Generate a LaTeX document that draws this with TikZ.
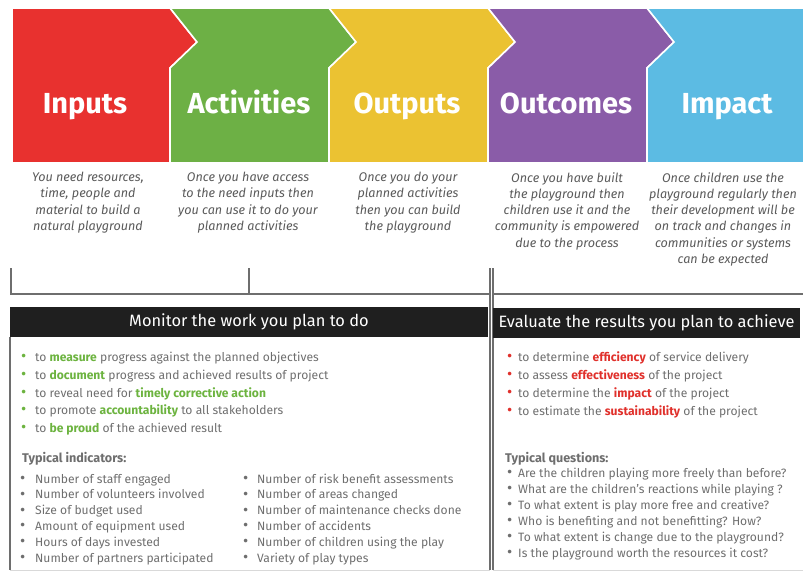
\documentclass[tikz,border=0pt]{standalone}
\usepackage{fontspec}
\setmainfont{Fira Sans}
\usetikzlibrary{positioning}

\definecolor{stagered}{HTML}{E8312F}
\definecolor{stagegreen}{HTML}{6DB045}
\definecolor{stageyellow}{HTML}{EBC232}
\definecolor{stagepurple}{HTML}{8A5CA8}
\definecolor{stageblue}{HTML}{5CBBE3}
\definecolor{keygreen}{HTML}{6CB33F}
\definecolor{keyred}{HTML}{E0302B}
\definecolor{txtgray}{HTML}{6E6E6E}
\definecolor{descgray}{HTML}{5A5A5A}
\definecolor{rulegray}{HTML}{6E6E6E}

\newcommand{\gkey}[1]{\textcolor{keygreen}{\textbf{#1}}}
\newcommand{\rkey}[1]{\textcolor{keyred}{\textbf{#1}}}

\newcommand{\drawstage}[5]{
  \def \stagel {#1}
  \def \stager {#2}
  \def \notchw {#3}
  \def \tipw {#4}
  % Fill the stage arrow, white edge splits it from its neighbour
  \filldraw[fill=#5, draw=white, line width=1.6pt]
    (\stagel,8) -- (\stager,8) -- (\stager+\tipw,42) -- (\stager,68)
    -- (\stager,163) -- (\stagel,163) -- (\stagel,68) -- (\stagel+\notchw,42) -- cycle;
}

\tikzset{
  stagetitle/.style={anchor=base, inner sep=0, text=white,
    font=\fontsize{29}{29}\selectfont\bfseries},
  desc/.style={anchor=north, inner sep=0, align=center, text=descgray,
    font=\fontsize{12.6}{16.3}\selectfont\itshape},
  hdr/.style={fill=black!88, text=white, inner sep=0, minimum height=30pt,
    font=\fontsize{16.4}{17}\selectfont},
  item/.style={anchor=base west, inner sep=0, text=txtgray,
    font=\fontsize{12.1}{13}\selectfont},
  itemhead/.style={item, font=\fontsize{12.6}{13}\selectfont\bfseries},
  dot/.style={anchor=base west, inner sep=0, yshift=-0.6pt,
    font=\fontsize{16}{16}\selectfont},
  rule/.style={draw=rulegray, line width=1.1pt}
}

\begin{document}
\begin{tikzpicture}[x=1pt, y=-1pt]
    \useasboundingbox (0,0) rectangle (803,574);
   %\drawstage{ left}{right}{notch}{tip}{colour}
    \drawstage{12}{170}{0}{27}{stagered}
    \drawstage{170}{329}{27}{27}{stagegreen}
    \drawstage{329}{488}{27}{27}{stageyellow}
    \drawstage{488}{647}{27}{27}{stagepurple}
    \drawstage{647}{805}{27}{0}{stageblue}
    \node[stagetitle] (inputs) at (85,113) {Inputs};
    \node[stagetitle] (activities) at (249,113) {Activities};
    \node[stagetitle] (outputs) at (407,113) {Outputs};
    \node[stagetitle] (outcomes) at (566,113) {Outcomes};
    \node[stagetitle] (impact) at (727,113) {Impact};

    \node[desc] (inputsdesc) at (88,172) {You need resources,\\ time, people and\\ material to build a\\ natural playground};
    \node[desc] (activitiesdesc) at (248,172) {Once you have access\\ to the need inputs then\\ you can use it to do your\\ planned activities};
    \node[desc] (outputsdesc) at (408,172) {Once you do your\\ planned activities\\ then you can build\\ the playground};
    \node[desc] (outcomesdesc) at (567,172) {Once you have built\\ the playground then\\ children use it and the\\ community is empowered\\ due to the process};
    \node[desc] (impactdesc) at (723,172) {Once children use the\\ playground regularly then\\ their development will be\\ on track and changes in\\ communities or systems\\ can be expected};

    % brackets and panel frames
    \draw[rule] (11,268) -- (11,294) -- (490,294);
    \draw[rule] (249,268) -- (249,294);
    \draw[rule] (490,268) -- (490,570);
    \draw[rule] (493,268) -- (493,570);
    \draw[rule] (493,294) -- (803,294);
    \draw[rule] (10,337) -- (10,570);
    \draw[draw=black!15, line width=1pt] (10,570) -- (490,570);
    \draw[draw=black!15, line width=1pt] (493,570) -- (803,570);

    \node[hdr, minimum width=478pt] (monitor) at (249,322) {Monitor the work you plan to do};
    \node[hdr, minimum width=307pt] (evaluate) at (646.5,323) {Evaluate the results you plan to achieve};

    \foreach \y/\t [count=\i] in {
        361/{to \gkey{measure} progress against the planned objectives},
        379/{to \gkey{document} progress and achieved results of project},
        397/{to reveal need for \gkey{timely corrective action}},
        414/{to promote \gkey{accountability} to all stakeholders},
        432/{to \gkey{be proud} of the achieved result}} {
      \node[dot, text=keygreen] (mondot\i) at (21,\y) {\textbullet};
      \node[item] (mon\i) at (35,\y) {\t};
    }
    \node[itemhead] (indicators) at (22,462) {Typical indicators:};
    \foreach \y/\a/\b [count=\i] in {
        483/Number of staff engaged/Number of risk benefit assessments,
        498.5/Number of volunteers involved/Number of areas changed,
        514.5/Size of budget used/Number of maintenance checks done,
        530/Amount of equipment used/Number of accidents,
        546/Hours of days invested/Number of children using the play,
        562/Number of partners participated/Variety of play types} {
      \node[dot, text=txtgray] (inddot\i) at (20,\y) {\textbullet};
      \node[item] (ind\i) at (35,\y) {\a};
      \node[dot, text=txtgray] (inddotb\i) at (243,\y) {\textbullet};
      \node[item] (indb\i) at (257,\y) {\b};
    }

    \foreach \y/\t [count=\i] in {
        361/{to determine \rkey{efficiency} of service delivery},
        379/{to assess \rkey{effectiveness} of the project},
        397/{to determine the \rkey{impact} of the project},
        415/{to estimate the \rkey{sustainability} of the project}} {
      \node[dot, text=keyred] (evdot\i) at (507,\y) {\textbullet};
      \node[item] (ev\i) at (518,\y) {\t};
    }
    \node[itemhead] (questions) at (505,462) {Typical questions:};
    \foreach \y/\t [count=\i] in {
        477/{Are the children playing more freely than before?},
        493/{What are the children’s reactions while playing ?},
        509/{To what extent is play more free and creative?},
        525/{Who is benefiting and not benefitting? How?},
        541/{To what extent is change due to the playground?},
        557/{Is the playground worth the resources it cost?}} {
      \node[dot, text=txtgray] (qdot\i) at (507,\y) {\textbullet};
      \node[item] (q\i) at (518,\y) {\t};
    }
\end{tikzpicture}
\end{document}
